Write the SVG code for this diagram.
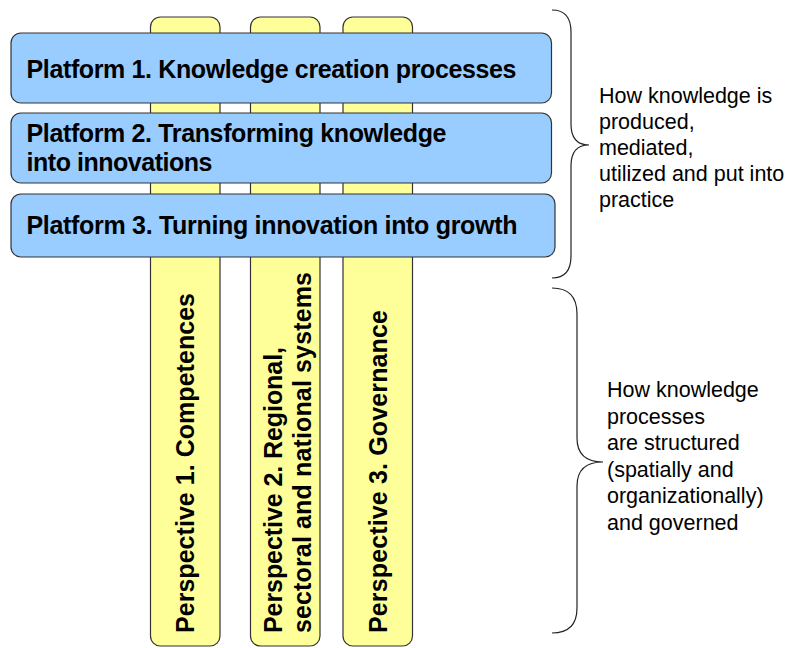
<svg xmlns="http://www.w3.org/2000/svg" width="790" height="648" viewBox="0 0 790 648">
<style>
.col{fill:#ffff99;stroke:#333;stroke-width:1.2}
.plat{fill:#99ccff;stroke:#333;stroke-width:1.2}
.bt{font-family:"Liberation Sans",Arial,sans-serif;font-weight:bold;font-size:25px;fill:#000}
.rt{font-family:"Liberation Sans",Arial,sans-serif;font-size:21.5px;fill:#000}
.brace{fill:none;stroke:#222;stroke-width:1.2}
</style>
<rect width="790" height="648" fill="#fff"/>
<g id="perspective1">
<rect class="col" x="150.5" y="17" width="69.5" height="629" rx="10"/>
<text class="bt" transform="translate(194,633) rotate(-90)" textLength="340" lengthAdjust="spacing">Perspective 1. Competences</text>
</g>
<g id="perspective2">
<rect class="col" x="250.5" y="17" width="69.5" height="629" rx="10"/>
<text class="bt" transform="translate(282,633) rotate(-90)" textLength="286" lengthAdjust="spacing">Perspective 2. Regional,</text>
<text class="bt" transform="translate(311,633) rotate(-90)" textLength="361" lengthAdjust="spacing">sectoral and national systems</text>
</g>
<g id="perspective3">
<rect class="col" x="343" y="17" width="69.5" height="629" rx="10"/>
<text class="bt" transform="translate(387,633) rotate(-90)" textLength="323" lengthAdjust="spacing">Perspective 3. Governance</text>
</g>
<g id="platform1">
<rect class="plat" x="11" y="33" width="540.5" height="70" rx="10"/>
<text class="bt" x="26.5" y="78.3" textLength="490" lengthAdjust="spacing">Platform 1. Knowledge creation processes</text>
</g>
<g id="platform2">
<rect class="plat" x="11" y="113" width="540.5" height="70" rx="10"/>
<text class="bt" x="26.5" y="141.7" textLength="420" lengthAdjust="spacing">Platform 2. Transforming knowledge</text>
<text class="bt" x="26.5" y="171" textLength="186" lengthAdjust="spacing">into innovations</text>
</g>
<g id="platform3">
<rect class="plat" x="11" y="194" width="544" height="63" rx="10"/>
<text class="bt" x="26.5" y="234.3" textLength="491" lengthAdjust="spacing">Platform 3. Turning innovation into growth</text>
</g>
<g id="connectors">
<path class="brace" d="M552,10 Q571,10 571,32 L571,124 Q571,145 589,145 Q571,145 571,166 L571,256 Q571,278 552,278"/>
<path class="brace" d="M552,288 Q577,288 577,314 L577,438 Q577,462 603,462 Q577,462 577,486 L577,608 Q577,633 552,633"/>
</g>
<g id="label-platforms">
<text class="rt" x="599" y="103">How knowledge is</text>
<text class="rt" x="599" y="129">produced,</text>
<text class="rt" x="599" y="155">mediated,</text>
<text class="rt" x="599" y="181">utilized and put into</text>
<text class="rt" x="599" y="207">practice</text>
</g>
<g id="label-perspectives">
<text class="rt" x="607" y="397">How knowledge</text>
<text class="rt" x="607" y="423.6">processes</text>
<text class="rt" x="607" y="450.2">are structured</text>
<text class="rt" x="607" y="476.8">(spatially and</text>
<text class="rt" x="607" y="503.4">organizationally)</text>
<text class="rt" x="607" y="530">and governed</text>
</g>
</svg>
